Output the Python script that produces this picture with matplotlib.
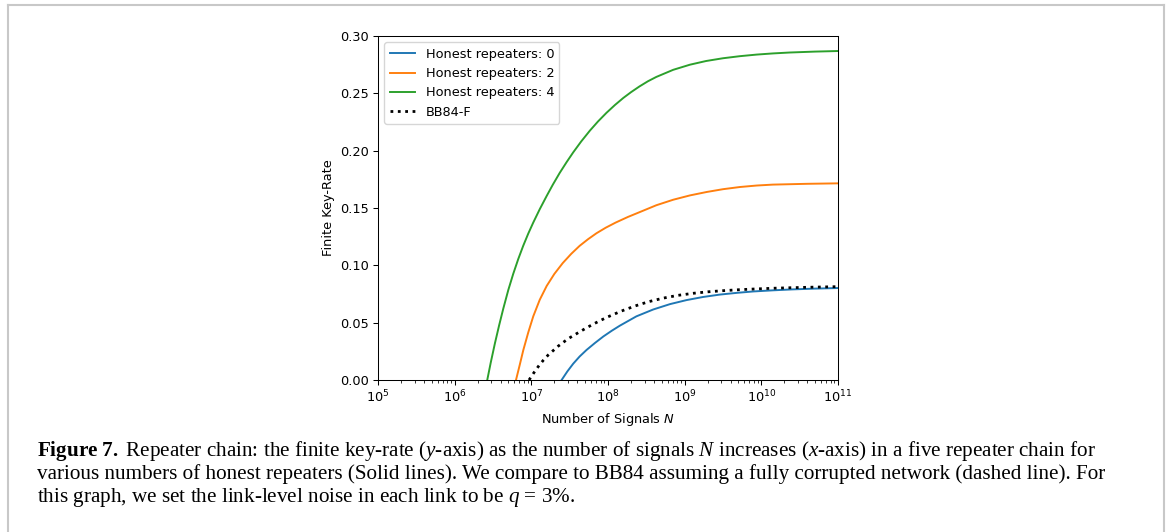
import matplotlib
matplotlib.use("Agg")
import matplotlib.pyplot as plt
import numpy as np
from matplotlib.lines import Line2D

# key-rate curves, x given as log10 of the number of signals
green_logn = [6.425, 6.47, 6.525, 6.58, 6.634, 6.70, 6.764, 6.83, 6.895, 6.96,
              7.025, 7.11, 7.20, 7.28, 7.37, 7.46, 7.546, 7.65, 7.764, 7.87,
              7.98, 8.09, 8.20, 8.30, 8.41, 8.52, 8.63, 8.85, 9.07, 9.28,
              9.50, 9.72, 9.94, 10.15, 10.37, 10.7, 11.0]
green_rate = [0.0, 0.0150, 0.0320, 0.0477, 0.0622, 0.0786, 0.0926, 0.1056, 0.1172, 0.1277,
              0.1373, 0.1490, 0.1605, 0.1703, 0.1806, 0.1900, 0.1985, 0.2080, 0.2175, 0.2255,
              0.2330, 0.2398, 0.2460, 0.2510, 0.2560, 0.2605, 0.2643, 0.2705, 0.2750, 0.2782,
              0.2806, 0.2824, 0.2838, 0.2848, 0.2856, 0.2864, 0.2869]

orange_logn = [6.80, 6.85, 6.895, 6.96, 7.025, 7.11, 7.20, 7.30, 7.41, 7.52,
               7.63, 7.74, 7.85, 7.97, 8.10, 8.26, 8.42, 8.63, 8.85, 9.07,
               9.29, 9.50, 9.72, 9.94, 10.15, 10.6, 11.0]
orange_rate = [0.0, 0.0135, 0.0260, 0.0415, 0.0555, 0.0700, 0.0820, 0.0925, 0.1020, 0.1100,
               0.1170, 0.1228, 0.1280, 0.1328, 0.1373, 0.1422, 0.1466, 0.1524, 0.1572, 0.1610,
               0.1640, 0.1664, 0.1683, 0.1696, 0.1704, 0.1711, 0.1715]

blue_logn = [7.395, 7.47, 7.546, 7.63, 7.72, 7.83, 7.94, 8.05, 8.155, 8.37,
             8.59, 8.81, 9.025, 9.24, 9.46, 9.68, 9.89, 10.15, 10.4, 10.7, 11.0]
blue_rate = [0.0, 0.0075, 0.0142, 0.0205, 0.0262, 0.0323, 0.0380, 0.0430, 0.0474, 0.0555,
             0.0615, 0.0662, 0.0697, 0.0724, 0.0745, 0.0760, 0.0772, 0.0782, 0.0790, 0.0797, 0.0802]

bb84_logn = [6.97, 7.035, 7.10, 7.16, 7.22, 7.35, 7.48, 7.63, 7.72, 7.81,
             7.90, 8.0, 8.17, 8.35, 8.53, 8.72, 8.91, 9.11, 9.3, 9.5,
             9.7, 9.89, 10.15, 10.4, 10.7, 11.0]
bb84_rate = [0.0, 0.0065, 0.0126, 0.0175, 0.0218, 0.0295, 0.0360, 0.0420, 0.0455, 0.0488,
             0.0519, 0.0551, 0.0600, 0.0645, 0.0683, 0.0714, 0.0738, 0.0756, 0.0769, 0.0779,
             0.0787, 0.0793, 0.0800, 0.0805, 0.0810, 0.0814]

labels = ["Honest repeaters: 0", "Honest repeaters: 2", "Honest repeaters: 4", "BB84-F"]
yticks = [0.0, 0.05, 0.10, 0.15, 0.20, 0.25, 0.30]

caption_lines = [
    r"$\mathbf{Figure\ 7.}\ $Repeater chain: the finite key-rate ($y$-axis) as the number of signals $N$ increases ($x$-axis) in a five repeater chain for",
    "various numbers of honest repeaters (Solid lines). We compare to BB84 assuming a fully corrupted network (dashed line). For",
    r"this graph, we set the link-level noise in each link to be $q$ = 3%.",
]

W, H = 1168, 532
s = 0.927  # the plot was made at a slightly smaller scale
plt.rcParams.update({
    "font.size": 10 * s,
    "lines.linewidth": 1.5 * s,
    "axes.linewidth": 0.8 * s,
    "xtick.major.size": 3.5 * s, "ytick.major.size": 3.5 * s,
    "xtick.minor.size": 2.0 * s, "ytick.minor.size": 2.0 * s,
    "xtick.major.width": 0.8 * s, "ytick.major.width": 0.8 * s,
    "xtick.minor.width": 0.6 * s, "ytick.minor.width": 0.6 * s,
    "xtick.major.pad": 3.5 * s, "ytick.major.pad": 3.5 * s,
    "mathtext.fontset": "custom",
    "mathtext.rm": "Liberation Serif",
    "mathtext.it": "Liberation Serif:italic",
    "mathtext.bf": "Liberation Serif:bold",
})

fig = plt.figure(figsize=(W / 100, H / 100), dpi=100)
ax = fig.add_axes([378 / W, 1 - 380 / H, (838 - 378) / W, (380 - 36) / H])

ax.plot(10.0 ** np.array(blue_logn), blue_rate, color="#1f77b4", label=labels[0])
ax.plot(10.0 ** np.array(orange_logn), orange_rate, color="#ff7f0e", label=labels[1])
ax.plot(10.0 ** np.array(green_logn), green_rate, color="#2ca02c", label=labels[2])
ax.plot(10.0 ** np.array(bb84_logn), bb84_rate, color="black", linestyle=":", linewidth=2.0,
        label=labels[3])

ax.set_xscale("log")
ax.set_xlim(1e5, 1e11)
ax.set_ylim(0, 0.30)
ax.set_yticks(yticks)
ax.set_yticklabels([f"{v:.2f}" for v in yticks])
ax.set_xlabel("Number of Signals $N$", math_fontfamily="dejavusans")
ax.set_ylabel("Finite Key-Rate")
ax.legend(loc="upper left")

# caption below the plot
renderer = fig.canvas.get_renderer()
probe = fig.text(0, 0, caption_lines[1], family="Liberation Serif", fontsize=14)
wpx = probe.get_window_extent(renderer).width
probe.remove()
cap_size = 14 * (1107 - 37) / wpx
for line, base in zip(caption_lines, [456, 479, 502]):
    fig.text(37 / W, 1 - base / H, line, family="Liberation Serif", fontsize=cap_size,
             va="baseline", ha="left")

# thin grey frame around the figure
frame = "#c8c8c8"
fig.add_artist(Line2D([8 / W, 1164 / W], [1 - 5 / H, 1 - 5 / H], color=frame, lw=1.5))
fig.add_artist(Line2D([8 / W, 8 / W], [1 - 5 / H, 0], color=frame, lw=1.5))
fig.add_artist(Line2D([1164 / W, 1164 / W], [1 - 5 / H, 0], color=frame, lw=1.5))

fig.savefig("out.png", dpi=100)
